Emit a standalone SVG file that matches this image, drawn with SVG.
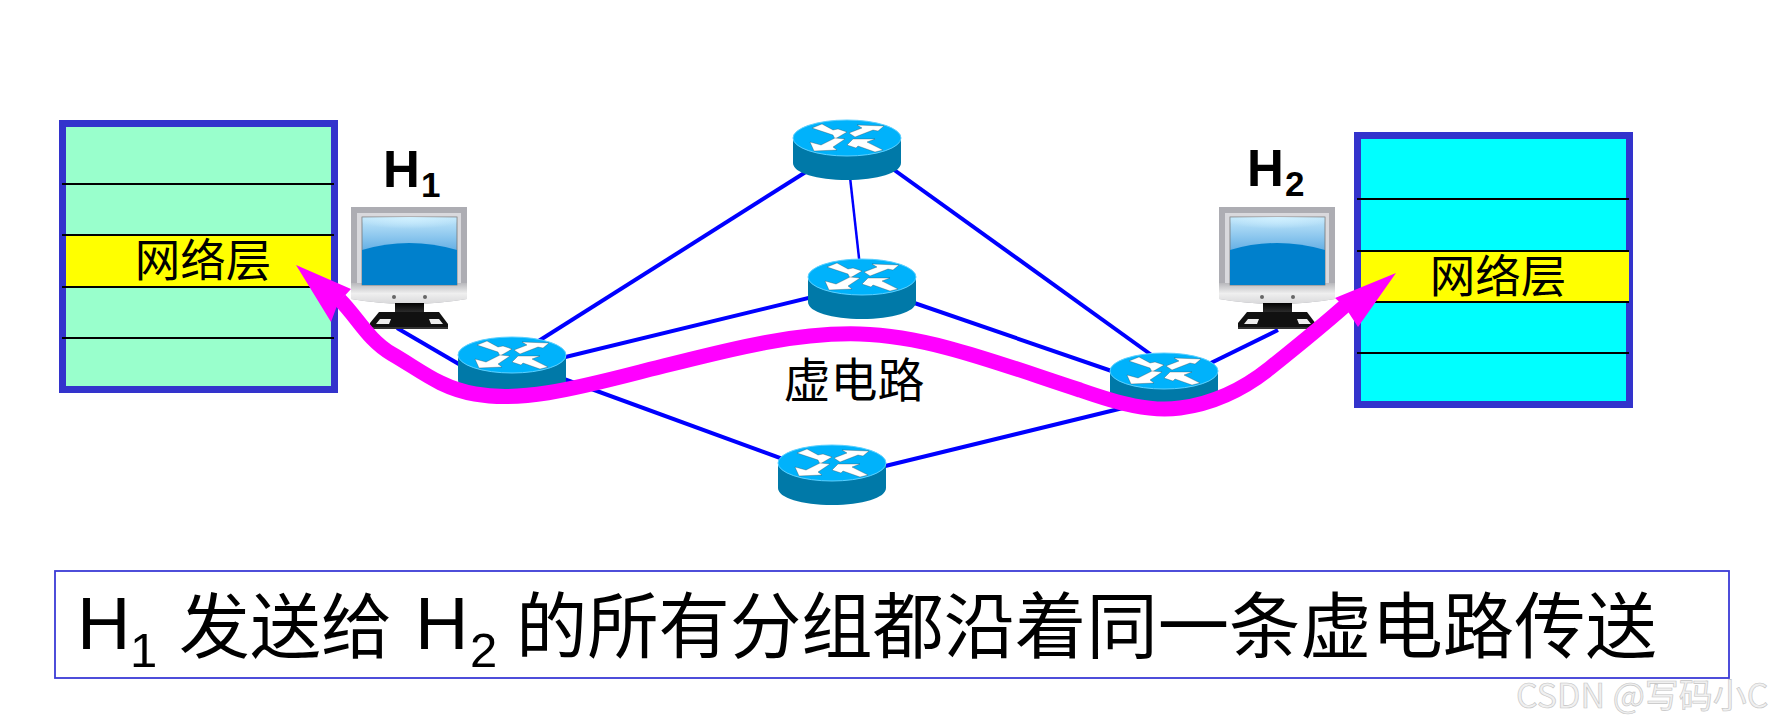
<svg xmlns="http://www.w3.org/2000/svg" width="1775" height="727" viewBox="0 0 1775 727">
<style>
.cn{font-family:"Noto Sans CJK SC","Noto Sans",sans-serif;fill:#000}
.lat{font-family:"Liberation Sans",Arial,sans-serif;fill:#000}
.b{font-weight:700}
.rule{stroke:#000;stroke-width:2;fill:none}
.stack{stroke:#3333cc;stroke-width:7}
.link{stroke:#0000ff;stroke-width:4;fill:none}
.thin{stroke-width:2.500}
.route{stroke:#ff00ff;stroke-width:15;fill:none;stroke-linejoin:round;stroke-linecap:butt}
</style>
<defs>
<linearGradient id="glass" x1="0" y1="0" x2="0" y2="1"><stop offset="0" stop-color="#c4e8fb"/><stop offset=".55" stop-color="#5aa9e2"/><stop offset="1" stop-color="#3d93d8"/></linearGradient>
<radialGradient id="glow" cx=".5" cy="0" r=".6"><stop offset="0" stop-color="#d0f0ff"/><stop offset="1" stop-color="#d0f0ff" stop-opacity="0"/></radialGradient>
<linearGradient id="chin" x1="0" y1="0" x2="0" y2="1"><stop offset="0" stop-color="#b8b8bc"/><stop offset=".5" stop-color="#efefef"/><stop offset="1" stop-color="#d8d8da"/></linearGradient>
<linearGradient id="neck" x1="0" y1="0" x2="0" y2="1"><stop offset="0" stop-color="#000"/><stop offset="1" stop-color="#444"/></linearGradient>
<g id="router">
<path d="M-54 0V25C-54 35-30 42 0 42S54 35 54 25V0Z" fill="#0079a8"/>
<ellipse cx="0" cy="0" rx="54" ry="18" fill="#00b2fb" stroke="#5cd0ff" stroke-width="1"/>
<g fill="#fff" stroke="#333" stroke-width=".3">
<path d="M-35-10-25-14-14-8-9-9 0-6-12 1-14-3Z"/>
<path d="M2-5 15-10 10-13 37-12 31-7 26-8 8-1Z"/>
<path d="M-37 4-26 7-12 0-2 1-14 9-10 12-33 13Z"/>
<path d="M0 7 6 1 28 1 20 4 36 12 28 14 11 8 9 10Z"/>
</g>
</g>
<g id="monitor">
<path d="M0 0H116V92Q58 102 0 92Z" fill="#adadb3"/>
<rect x="6" y="6" width="104" height="72" fill="#d9d9dd"/>
<path d="M0 76H116V92Q58 102 0 92Z" fill="url(#chin)"/>
<rect x="11" y="10" width="95" height="68" fill="url(#glass)" stroke="#777" stroke-width=".8"/>
<path d="M11 10H106V30H11Z" fill="url(#glow)"/>
<path d="M11 43Q58 29 106 43V78H11Z" fill="#0080cc"/>
<circle cx="43" cy="90" r="2" fill="#666"/><circle cx="74" cy="90" r="2" fill="#666"/>
<rect x="44" y="96" width="29" height="14" fill="url(#neck)"/>
<path d="M28 105H88L97 117V121H19V116Z" fill="#111"/>
<path d="M29 112H40L38 117H25ZM78 112H88L92 117H80Z" fill="#eee"/>
<rect x="19" y="120" width="78" height="2" fill="#333"/>
</g>
</defs>
<rect width="1775" height="727" fill="#fff"/>

<g id="connectors">
<path class="link" d="M397 328L512 395"/>
<path class="link" d="M518 354L847 146"/>
<path class="link" d="M512 370L862 285"/>
<path class="link" d="M512 360L832 477"/>
<path class="link thin" d="M847 150L862 285"/>
<path class="link" d="M847 136L1164 364"/>
<path class="link" d="M862 285L1164 389"/>
<path class="link" d="M832 479L1164 398"/>
<path class="link" d="M1164 386L1278 330"/>
</g>

<g id="stack-left">
<rect class="stack" x="62.500" y="123.500" width="272" height="266" fill="#99ffcc"/>
<rect x="66" y="235" width="265" height="52" fill="#ffff00"/>
<path class="rule" d="M62 184H334M62 235H334M62 287H334M62 338H334"/>
<text class="cn" x="203" y="277" font-size="45.500" text-anchor="middle">网络层</text>
</g>
<g id="stack-right">
<rect class="stack" x="1357.500" y="135.500" width="272" height="269" fill="#00ffff"/>
<rect x="1361" y="251" width="268" height="52" fill="#ffff00"/>
<path class="rule" d="M1357 199H1629M1357 251H1629M1361 302H1629M1357 353H1629"/>
<text class="cn" x="1498" y="293" font-size="45.500" text-anchor="middle">网络层</text>
</g>

<g id="host-h1">
<use href="#monitor" x="351" y="207"/>
<text class="lat b" x="383" y="187" font-size="51">H</text>
<text class="lat b" x="421" y="197" font-size="35">1</text>
</g>
<g id="host-h2">
<use href="#monitor" x="1219" y="207"/>
<text class="lat b" x="1247" y="186" font-size="51">H</text>
<text class="lat b" x="1285" y="196" font-size="35">2</text>
</g>

<g id="router-left"><use href="#router" x="512" y="355"/></g>
<g id="router-top"><use href="#router" x="847" y="138"/></g>
<g id="router-mid"><use href="#router" x="862" y="277"/></g>
<g id="router-bottom"><use href="#router" x="832" y="463"/></g>
<g id="router-right"><use href="#router" x="1164" y="371"/></g>

<g id="route">
<path class="route" d="M340 300C358 318 368 340 392 354C420 370 440 388 475 394C520 402 570 390 640 372C720 352 790 332 860 334C930 336 1000 364 1080 390C1120 404 1150 412 1180 408C1210 404 1240 392 1270 368C1295 348 1320 328 1347 304"/>
<path d="M296 265L351 289L338 303L331 322Z" fill="#ff00ff"/>
<path d="M1396 273L1335 298L1345 307L1358 327Z" fill="#ff00ff"/>
</g>

<g id="label-vc"><text class="cn" x="854" y="397" font-size="47" text-anchor="middle">虚电路</text></g>

<g id="caption">
<rect x="55" y="571" width="1674" height="107" fill="#fff" stroke="#3b3bd6" stroke-width="1.800"/>
<text class="lat" x="77" y="649" font-size="74">H</text>
<text class="lat" x="130" y="667" font-size="49">1</text>
<text class="cn" x="179" y="652" font-size="71">发送给</text>
<text class="lat" x="415" y="649" font-size="74">H</text>
<text class="lat" x="470" y="667" font-size="49">2</text>
<text class="cn" x="516" y="652" font-size="71.300">的所有分组都沿着同一条虚电路传送</text>
</g>
<text id="watermark" class="cn" x="1516" y="708" font-size="34" style="fill:#f0f0f0;stroke:#c4c4c4;stroke-width:.6">CSDN @写码小C</text>
</svg>
